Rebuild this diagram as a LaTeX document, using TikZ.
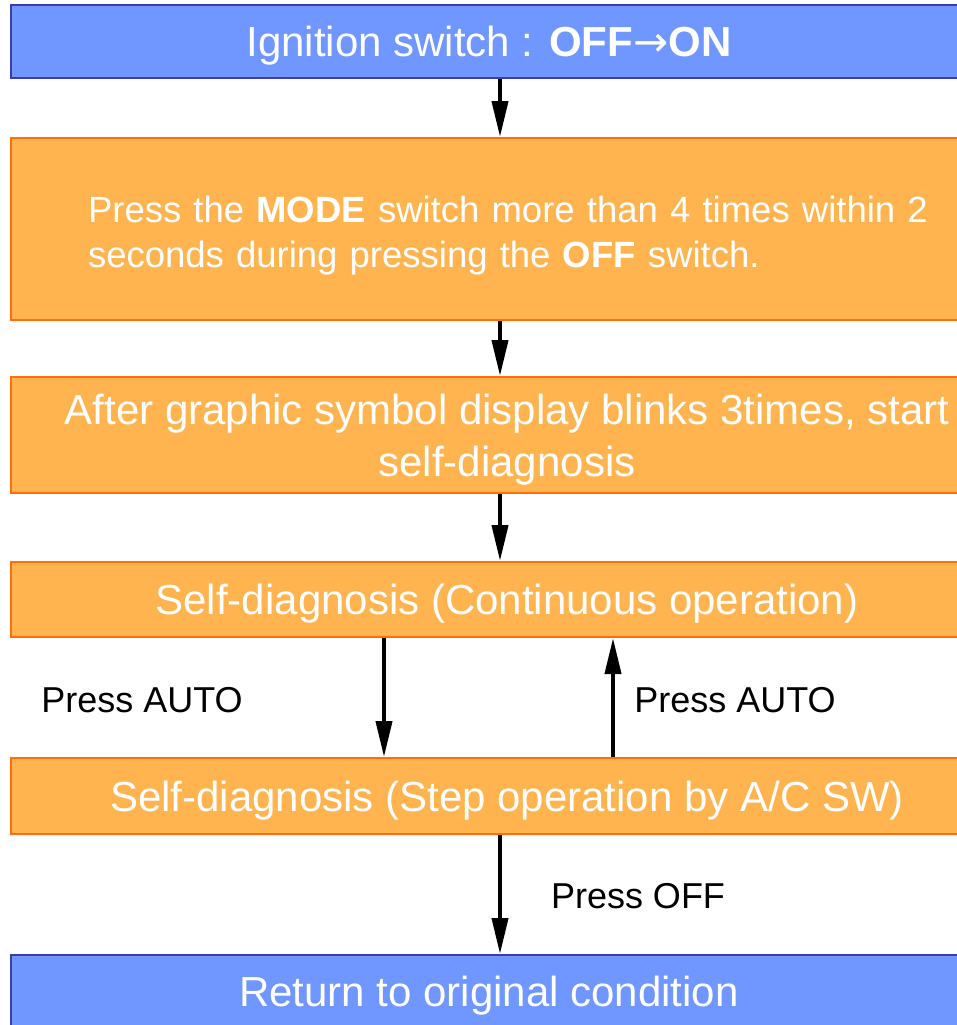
\documentclass[tikz,border=0pt]{standalone}
\usepackage{fontspec}
\setmainfont{Liberation Sans}
\newfontfamily\arrowfont{DejaVu Sans}
\usetikzlibrary{arrows.meta}
\definecolor{bfill}{RGB}{112,150,255}
\definecolor{bdraw}{RGB}{60,60,170}
\definecolor{ofill}{RGB}{255,180,80}
\definecolor{odraw}{RGB}{255,110,10}
\newcommand{\lowstrut}{\rule{0pt}{39pt}}
\begin{document}
\begin{tikzpicture}[x=1pt,y=-1pt,
  bluebox/.style={draw=bdraw,fill=bfill,line width=2pt,text=white,minimum width=956pt,inner sep=0pt,font=\fontsize{42}{52}\selectfont,align=center},
  orbox/.style={draw=odraw,fill=ofill,line width=2pt,text=white,minimum width=992pt,inner sep=0pt,font=\fontsize{42}{52}\selectfont,align=center},
  arr/.style={line width=4pt,-{Triangle[length=36pt,width=16pt]}},
  lbl/.style={font=\fontsize{36}{42}\selectfont,text=black,inner sep=0pt}]
\useasboundingbox (0,0) rectangle (956,1025);
\node[bluebox,minimum height=73pt] (b1) at (489,41.5) {\lowstrut Ignition switch : \textbf{OFF}{\arrowfont →}\textbf{ON}};
\node[orbox,minimum height=182pt,align=left,text width=838pt,font=\fontsize{36.5}{45}\selectfont] (b2) at (507,229) {\mbox{\lowstrut Press the \textbf{MODE} switch more than 4 times within 2}\\\mbox{seconds during pressing the \textbf{OFF} switch.}};
\node[orbox,minimum height=116pt] (b3) at (507,435) {\lowstrut After graphic symbol display blinks 3times, start\\self-diagnosis};
\node[orbox,minimum height=75pt] (b4) at (507,599.5) {\lowstrut Self-diagnosis (Continuous operation)};
\node[orbox,minimum height=76pt] (b5) at (507,796) {\lowstrut Self-diagnosis (Step operation by A/C SW)};
\node[bluebox,minimum height=72pt] (b6) at (489,991) {\lowstrut Return to original condition};
\coordinate (ax) at (500,0);
\coordinate (dx) at (384,0);
\coordinate (ux) at (613,0);
\draw[arr] (ax |- b1.south) -- (ax |- b2.north);
\draw[arr] (ax |- b2.south) -- (ax |- b3.north);
\draw[arr] (ax |- b3.south) -- (ax |- b4.north);
\draw[arr] (dx |- b4.south) -- (dx |- b5.north);
\draw[arr] (ux |- b5.north) -- (ux |- b4.south);
\draw[arr] (ax |- b5.south) -- (ax |- b6.north);
\node[lbl] (l1) at (142,700) {Press AUTO};
\node[lbl] (l2) at (735,700) {Press AUTO};
\node[lbl] (l3) at (638,896) {Press OFF};
\end{tikzpicture}
\end{document}
